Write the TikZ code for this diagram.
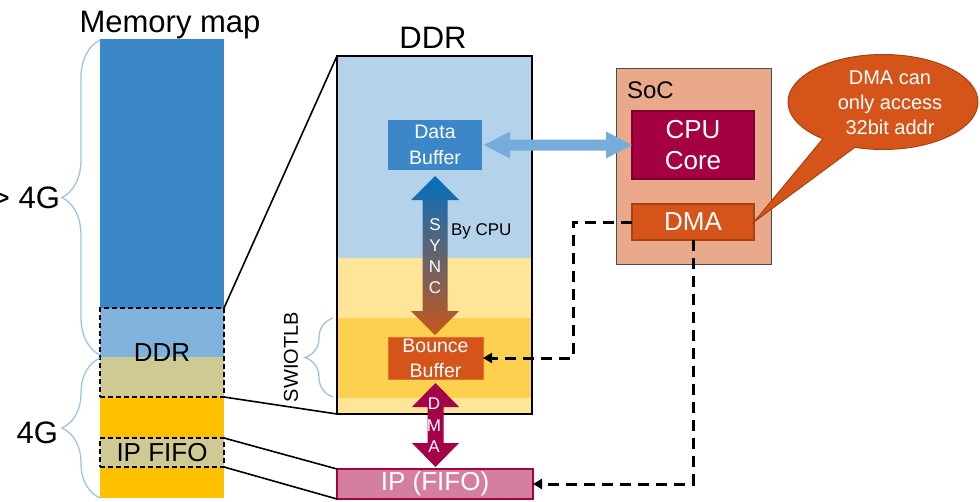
\documentclass[tikz,border=0pt]{standalone}
\usepackage{fontspec}
\setmainfont{Liberation Sans}
\usetikzlibrary{calc,shapes.callouts,decorations.pathreplacing,arrows.meta}

\definecolor{memDark}{HTML}{3B87C8}
\definecolor{memLight}{HTML}{80B3DC}
\definecolor{khaki}{HTML}{CFCA93}
\definecolor{gold}{HTML}{FFC000}
\definecolor{ddrBlue}{HTML}{B4D3EB}
\definecolor{ddrYel}{HTML}{FFE598}
\definecolor{ddrYelB}{HTML}{FDD14F}
\definecolor{orangeBox}{HTML}{D5541A}
\definecolor{orangeLine}{HTML}{A8420F}
\definecolor{orangeLight}{HTML}{E46E2E}
\definecolor{crimson}{HTML}{A5003F}
\definecolor{crimsonLine}{HTML}{7C0030}
\definecolor{pinkBox}{HTML}{D47EA0}
\definecolor{socFill}{HTML}{E9A98A}
\definecolor{braceBlue}{HTML}{9DC3E6}
\definecolor{arrowBlue}{HTML}{74ACDB}
\definecolor{dmaArrow}{HTML}{A5004A}
\definecolor{syncTop}{HTML}{0070C0}
\definecolor{syncBot}{HTML}{C8561A}

\newcommand\fsz[2]{\fontsize{#1}{#2}\selectfont}
% vertical double block arrow: #1 options, #2 top tip, #3 bottom tip, #4 half shaft, #5 half head, #6 head length
\newcommand\vdblarrow[6]{%
  \path[#1] let \p1=#2, \p2=#3 in
   (\x1,\y1) -- (\x1+#5pt,\y1-#6pt) -- (\x1+#4pt,\y1-#6pt) -- (\x1+#4pt,\y2+#6pt)
   -- (\x1+#5pt,\y2+#6pt) -- (\x1,\y2) -- (\x1-#5pt,\y2+#6pt) -- (\x1-#4pt,\y2+#6pt)
   -- (\x1-#4pt,\y1-#6pt) -- (\x1-#5pt,\y1-#6pt) -- cycle;}
% horizontal double block arrow: #1 options, #2 left tip, #3 right tip, #4 half shaft, #5 half head, #6 head length
\newcommand\hdblarrow[6]{%
  \path[#1] let \p1=#2, \p2=#3 in
   (\x1,\y1) -- (\x1+#6pt,\y1+#5pt) -- (\x1+#6pt,\y1+#4pt) -- (\x2-#6pt,\y1+#4pt)
   -- (\x2-#6pt,\y1+#5pt) -- (\x2,\y1) -- (\x2-#6pt,\y1-#5pt) -- (\x2-#6pt,\y1-#4pt)
   -- (\x1+#6pt,\y1-#4pt) -- (\x1+#6pt,\y1-#5pt) -- cycle;}

\begin{document}
\begin{tikzpicture}[x=1pt,y=-1pt,
  box/.style={rectangle, inner sep=0pt, outer sep=0pt},
  lbl/.style={inner sep=0pt, outer sep=0pt},
  dashbox/.style={draw=black, line width=1.5pt, dash pattern=on 5pt off 3pt},
  zoomline/.style={black, line width=1.6pt},
  bracestyle/.style={braceBlue, line width=1.3pt, decorate},
  conn/.style={line width=3pt, dash pattern=on 11pt off 7pt, -{Triangle[length=9pt,width=10pt]}},
  bigtxt/.style={lbl, font=\fsz{31}{36}}
]
\useasboundingbox (0,0) rectangle (980,501);

% ---------- Memory map column ----------
\fill[memDark]  (100,39)  rectangle (224,308);
\fill[memLight] (100,308) rectangle (224,357);
\fill[khaki]    (100,357) rectangle (224,397);
\fill[gold]     (100,397) rectangle (224,438);
\fill[khaki]    (100,438) rectangle (224,467);
\fill[gold]     (100,467) rectangle (224,498);

\node[box, dashbox, minimum width=124pt, minimum height=89pt, font=\fsz{26}{30}] (mddr) at (162,352.5) {DDR};
\node[box, dashbox, minimum width=124pt, minimum height=29pt, font=\fsz{26}{30}] (mfifo) at (162,452.5) {IP FIFO};

\node[bigtxt, anchor=base] (mtitle) at (170,32) {Memory map};
\node[bigtxt, anchor=base east] (gt4) at (60,208) {> 4G};
\node[bigtxt, anchor=base east] (g4) at (58,443) {4G};

\draw[bracestyle, decoration={brace, amplitude=38pt}] (100,355) -- (100,40);
\draw[bracestyle, decoration={brace, amplitude=38pt}] (100,498) -- (100,358);

% ---------- DDR box ----------
\node[bigtxt, anchor=base] (ddrtitle) at (433,48) {DDR};
\fill[ddrBlue] (337,56)  rectangle (532,258);
\fill[ddrYel]  (337,258) rectangle (532,318);
\fill[ddrYelB] (337,318) rectangle (532,398);
\fill[ddrYel]  (337,398) rectangle (532,414);
\node[box, draw=black, line width=1.5pt, minimum width=195pt, minimum height=358pt] (ddr) at (434.5,235) {};

\draw[bracestyle, decoration={brace, amplitude=28pt}] (333,397) -- (333,318);
\node[lbl, rotate=90, font=\fsz{20}{24}] (swio) at (291,357) {SWIOTLB};

\node[box, fill=memDark, text=white, minimum width=94pt, minimum height=50pt, align=center, font=\fsz{19.5}{26}] (db) at (435,145) {Data\\Buffer};
\node[box, fill=orangeBox, draw=orangeLight, line width=1pt, text=white, minimum width=95pt, minimum height=42pt, align=center, font=\fsz{19.5}{25}] (bb) at (435.5,358) {Bounce\\Buffer};

% ---------- IP (FIFO) ----------
\node[box, fill=pinkBox, draw=crimson, line width=2pt, text=white, minimum width=196pt, minimum height=30pt, font=\fsz{26}{30}] (ip) at (435,484) {IP (FIFO)};

% zoom lines
\draw[zoomline] (mddr.north east) -- (ddr.north west);
\draw[zoomline] (mddr.south east) -- (ddr.south west);
\draw[zoomline] (mfifo.north east) -- (ip.north west);
\draw[zoomline] (mfifo.south east) -- (ip.south west);

% block arrows
\vdblarrow{top color=syncTop, bottom color=syncBot}{($(db.south)+(0,6)$)}{($(bb.north)+(0,-2)$)}{12.5}{24}{24}
\node[lbl, text=white, align=center, font=\fsz{17}{21}] (synctxt) at (435,256) {S\\Y\\N\\C};
\node[lbl, anchor=base west, font=\fsz{17}{20}] (bycpu) at (451,235) {By CPU};

\vdblarrow{fill=dmaArrow}{($(bb.south)+(0,4)$)}{($(ip.north)+(0,-2)$)}{8}{23.5}{24}
\node[lbl, text=white, align=center, font=\fsz{17}{21.5}] (dmatxt) at (434,425.5) {D\\M\\A};

% ---------- SoC ----------
\node[box, fill=socFill, draw=black!70, line width=1pt, minimum width=155pt, minimum height=196pt] (soc) at (693.5,166) {};
\node[lbl, anchor=base west, font=\fsz{24}{28}] (soclbl) at (627,98) {SoC};
\node[box, fill=crimson, draw=crimsonLine, line width=1.5pt, text=white, minimum width=122pt, minimum height=68pt, align=center, font=\fsz{26}{31}] (cpu) at (693,145) {CPU\\Core};
\node[box, fill=orangeBox, draw=orangeLine, line width=1.5pt, text=white, minimum width=122pt, minimum height=36pt, font=\fsz{26}{30}] (dma) at (693,222) {DMA};

\hdblarrow{fill=arrowBlue}{($(db.east)+(2,0)$)}{(cpu.west)}{5.5}{13.5}{26}

% dashed connectors
\draw[conn] (dma.west) -- ++(-59,0) |- (bb.east);
\draw[conn] (dma.south) |- (ip.east);

% callout
\node[ellipse callout, fill=orangeBox, draw=orangeLine, line width=1pt, inner sep=0pt,
      minimum width=190pt, minimum height=95pt,
      callout absolute pointer={(dma.east)}, callout pointer arc=22] (call) at (883,102) {};
\node[lbl, text=white, align=center, font=\fsz{20}{25}] (calltxt) at (890,103) {DMA can\\only access\\32bit addr};
\end{tikzpicture}
\end{document}
